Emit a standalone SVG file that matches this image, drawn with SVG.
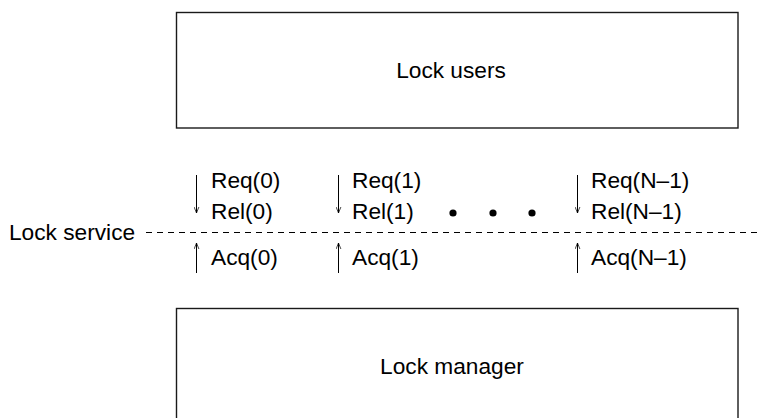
<svg xmlns="http://www.w3.org/2000/svg" width="762" height="418" viewBox="0 0 762 418">
<style>
.box{fill:#fff;stroke:#1a1a1a;stroke-width:1.4}
.t{font-family:"Liberation Sans",Arial,Helvetica,sans-serif;font-size:22.7px;fill:#000}
.c{text-anchor:middle}
.ar{stroke:#000;stroke-width:1;fill:none}
.dash{stroke:#000;stroke-width:1.2;stroke-dasharray:6 5;fill:none}
</style>
<defs>
<marker id="ah" viewBox="0 0 10 10" refX="10" refY="5" markerWidth="8" markerHeight="6" markerUnits="userSpaceOnUse" orient="auto">
<path d="M0,1 L10,5 L0,9" fill="none" stroke="#000" stroke-width="1.2"/>
</marker>
</defs>
<g id="lock-users">
<rect class="box" x="176.5" y="12.5" width="561.5" height="115.5"/>
<text class="t c" x="451" y="78">Lock users</text>
</g>
<g id="lock-manager">
<rect class="box" x="176.5" y="308.5" width="561.5" height="130"/>
<text class="t c" x="452" y="374">Lock manager</text>
</g>
<g id="lock-service">
<text class="t" x="9" y="240">Lock service</text>
<line class="dash" x1="146" y1="232.5" x2="762" y2="232.5"/>
</g>
<g id="connectors">
<line class="ar" x1="196.5" y1="175" x2="196.5" y2="213" marker-end="url(#ah)"/>
<line class="ar" x1="196.5" y1="273" x2="196.5" y2="243" marker-end="url(#ah)"/>
<line class="ar" x1="338.5" y1="175" x2="338.5" y2="213" marker-end="url(#ah)"/>
<line class="ar" x1="338.5" y1="273" x2="338.5" y2="243" marker-end="url(#ah)"/>
<line class="ar" x1="577.5" y1="175" x2="577.5" y2="213" marker-end="url(#ah)"/>
<line class="ar" x1="577.5" y1="273" x2="577.5" y2="243" marker-end="url(#ah)"/>
</g>
<g id="ch0">
<text class="t" x="211" y="188">Req(0)</text>
<text class="t" x="211" y="219">Rel(0)</text>
<text class="t" x="211" y="265">Acq(0)</text>
</g>
<g id="ch1">
<text class="t" x="352" y="188">Req(1)</text>
<text class="t" x="352" y="219">Rel(1)</text>
<text class="t" x="352" y="265">Acq(1)</text>
</g>
<g id="chN">
<text class="t" x="591" y="188">Req(N–1)</text>
<text class="t" x="591" y="219">Rel(N–1)</text>
<text class="t" x="591" y="265">Acq(N–1)</text>
</g>
<g id="dots">
<circle cx="453" cy="213" r="3.6"/>
<circle cx="493" cy="213" r="3.6"/>
<circle cx="532" cy="213" r="3.6"/>
</g>
</svg>
